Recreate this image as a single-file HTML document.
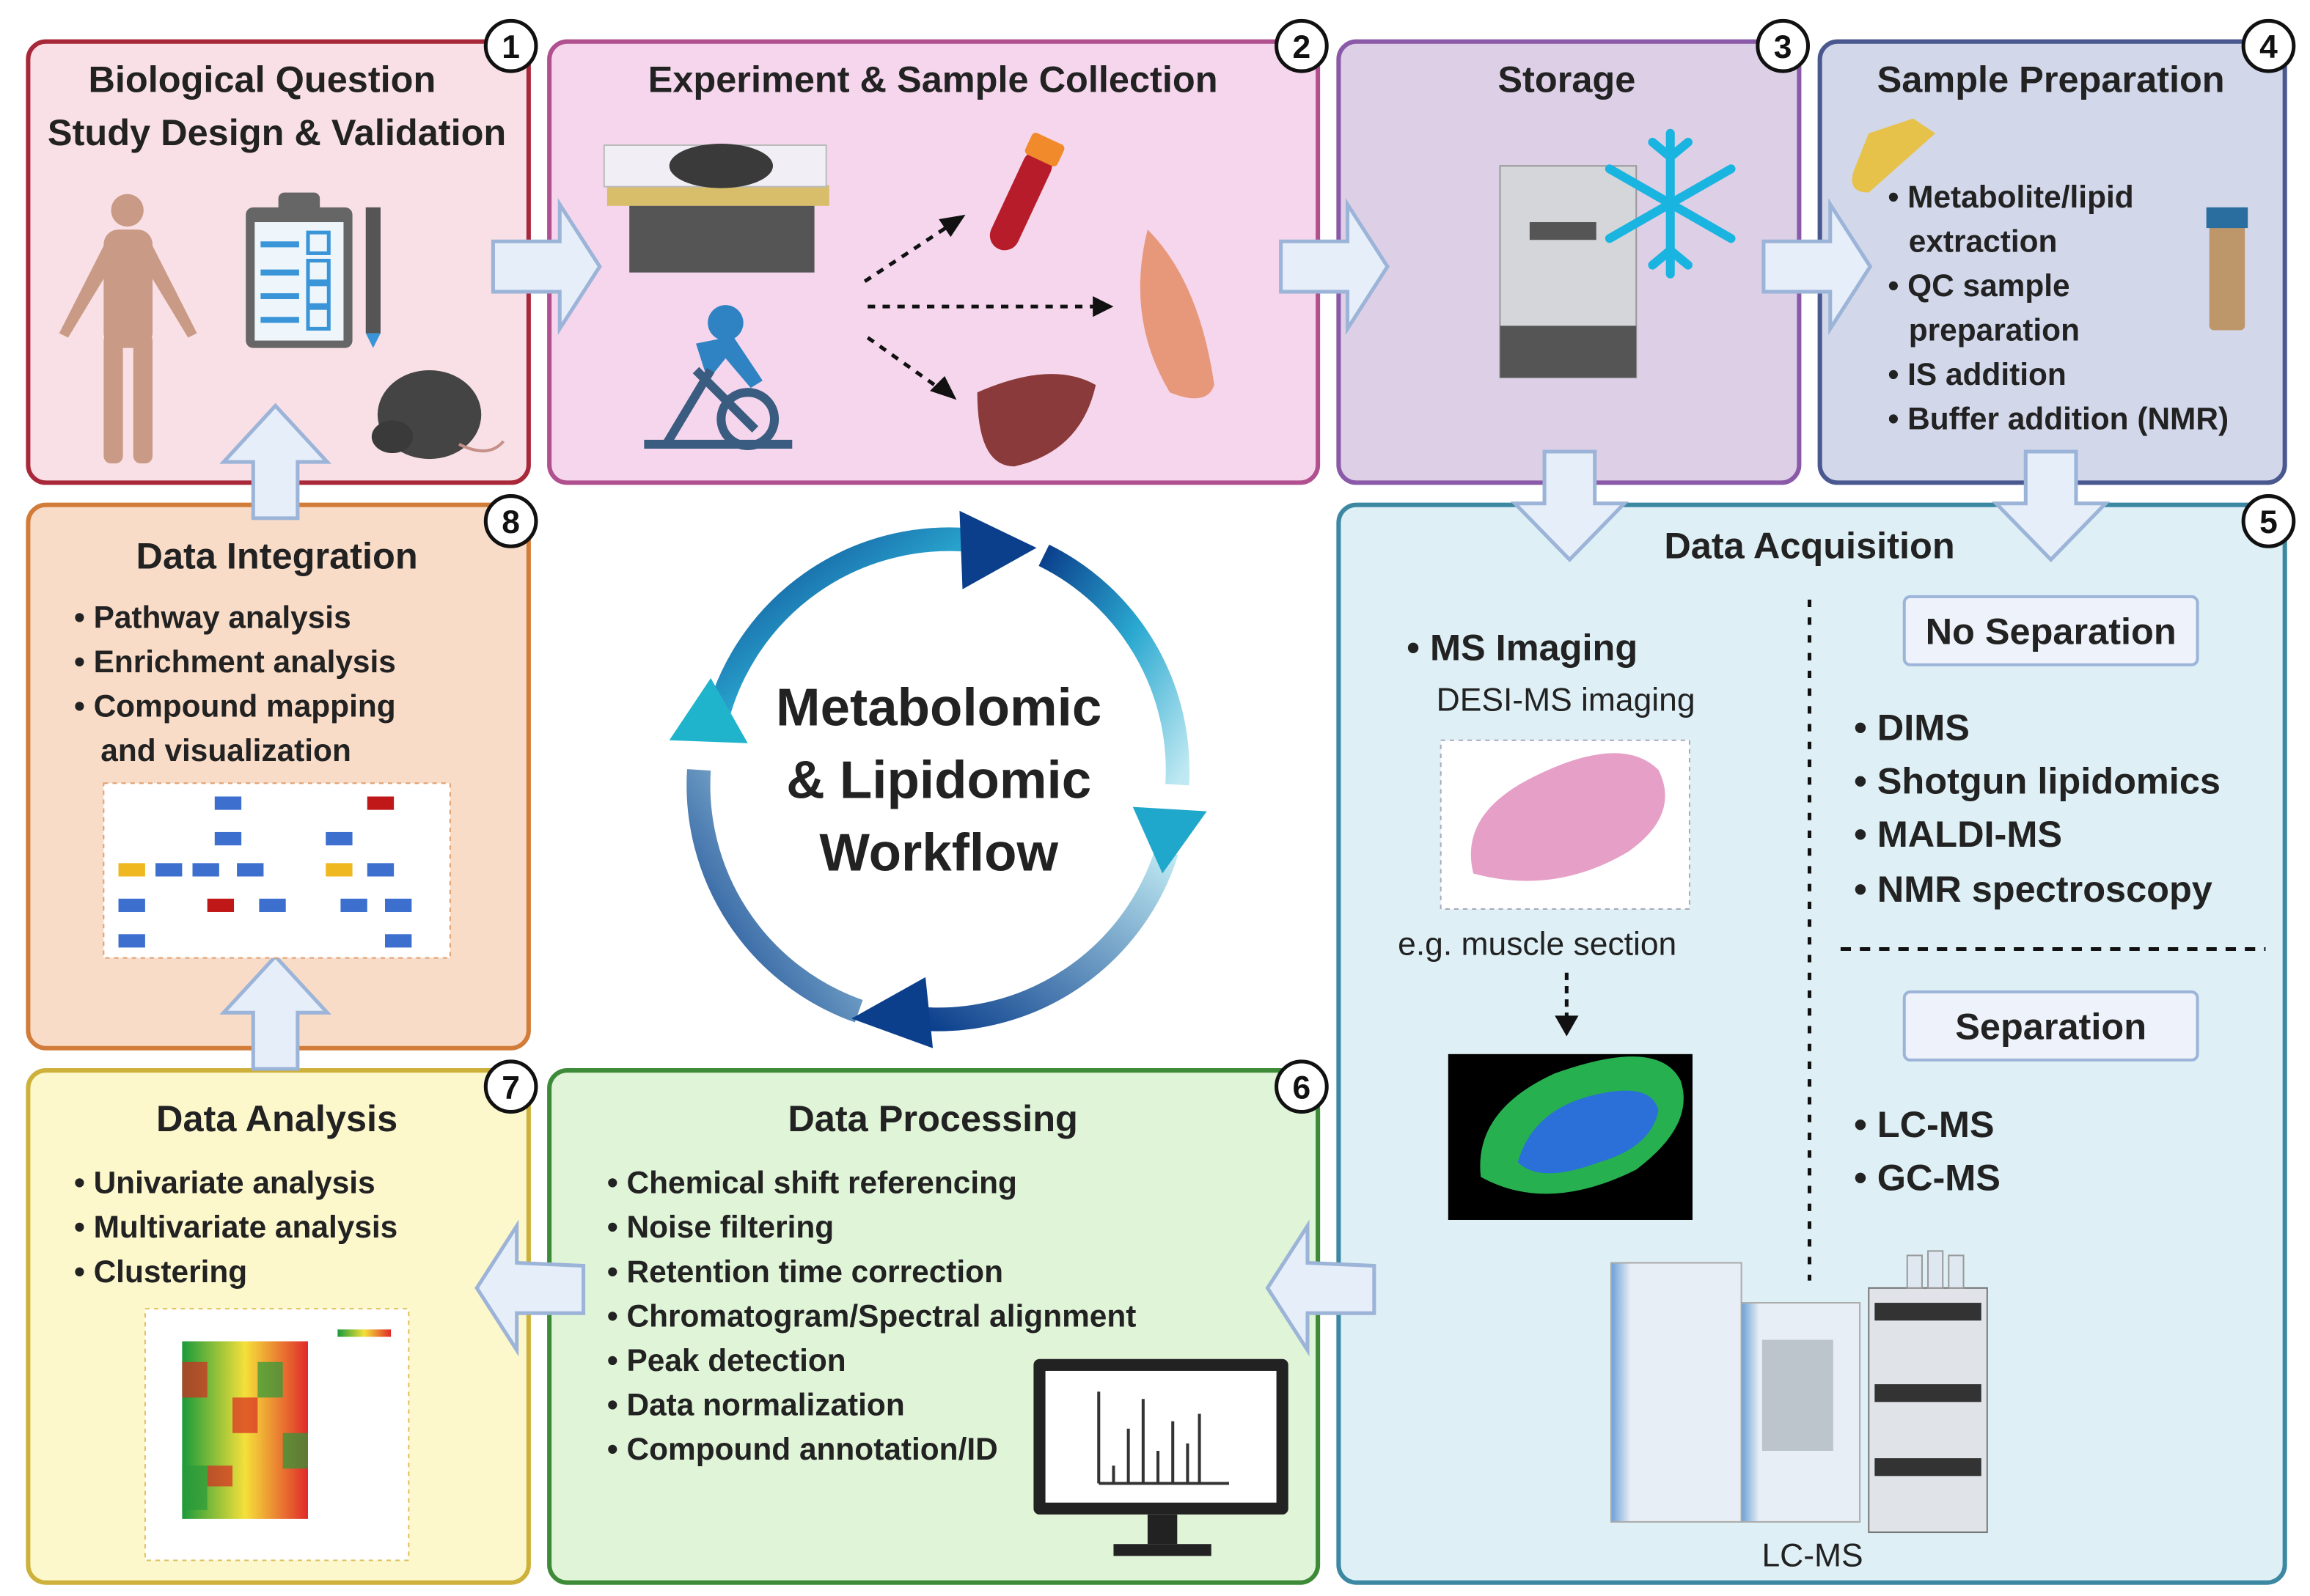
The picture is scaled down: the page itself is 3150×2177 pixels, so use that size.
<!DOCTYPE html>
<html><head><meta charset="utf-8"><style>
html,body{margin:0;padding:0;background:#fff;}
svg{display:block;}
text{font-family:"Liberation Sans",sans-serif;fill:#222;}
.t{font-weight:bold;font-size:25px;}
.b{font-weight:bold;font-size:21px;}
.n{font-weight:bold;font-size:22px;fill:#111;}
</style></head><body>
<svg width="3150" height="2177" viewBox="0 0 1560 1078" xmlns="http://www.w3.org/2000/svg">
<defs>
<linearGradient id="g1" x1="0" y1="0" x2="1" y2="1"><stop offset="0" stop-color="#0b3f8c"/><stop offset="0.5" stop-color="#2aa8d0"/><stop offset="1" stop-color="#bfe9f2"/></linearGradient>
<linearGradient id="g2" x1="1" y1="0" x2="0" y2="1"><stop offset="0" stop-color="#bfe9f2"/><stop offset="1" stop-color="#0b3f8c"/></linearGradient>
<linearGradient id="lc" x1="0" y1="0" x2="1" y2="0"><stop offset="0" stop-color="#6a9fd6"/><stop offset="0.15" stop-color="#e8eef5"/></linearGradient>
<linearGradient id="hm" x1="0" y1="0" x2="1" y2="0"><stop offset="0" stop-color="#1a9a3a"/><stop offset="0.5" stop-color="#f5e03a"/><stop offset="1" stop-color="#e02a2a"/></linearGradient>
</defs>
<rect width="1560" height="1078" fill="#fff"/>
<!-- boxes -->
<rect x="19" y="28" width="338" height="298" rx="12" fill="#f9e0e6" stroke="#a8283a" stroke-width="3"/>
<rect x="371" y="28" width="519" height="298" rx="12" fill="#f5d6ec" stroke="#b0508e" stroke-width="3"/>
<rect x="904" y="28" width="311" height="298" rx="12" fill="#ddcfe6" stroke="#8a5aa8" stroke-width="3"/>
<rect x="1229" y="28" width="314" height="298" rx="12" fill="#d2d7ea" stroke="#4a5890" stroke-width="3"/>
<rect x="904" y="341" width="639" height="728" rx="12" fill="#def0f6" stroke="#3c88a2" stroke-width="3"/>
<rect x="371" y="723" width="519" height="346" rx="12" fill="#e0f4d8" stroke="#3d8a38" stroke-width="3"/>
<rect x="19" y="723" width="338" height="346" rx="12" fill="#fcf8cc" stroke="#cdb13a" stroke-width="3"/>
<rect x="19" y="341" width="338" height="367" rx="12" fill="#f9dcc8" stroke="#d27c3a" stroke-width="3"/>
<!-- number circles -->
<g fill="#fff" stroke="#111" stroke-width="2.5">
<circle cx="345" cy="31" r="17"/><circle cx="879" cy="31" r="17"/><circle cx="1204" cy="31" r="17"/><circle cx="1532" cy="31" r="17"/>
<circle cx="1532" cy="352" r="17"/><circle cx="879" cy="734" r="17"/><circle cx="345" cy="734" r="17"/><circle cx="345" cy="352" r="17"/>
</g>
<g class="n" text-anchor="middle"><text class="n" x="345" y="39">1</text><text class="n" x="879" y="39">2</text><text class="n" x="1204" y="39">3</text><text class="n" x="1532" y="39">4</text><text class="n" x="1532" y="360">5</text><text class="n" x="879" y="742">6</text><text class="n" x="345" y="742">7</text><text class="n" x="345" y="360">8</text></g>
<!-- titles -->
<g text-anchor="middle">
<text class="t" x="177" y="62">Biological Question</text>
<text class="t" x="187" y="98">Study Design &amp; Validation</text>
<text class="t" x="630" y="62">Experiment &amp; Sample Collection</text>
<text class="t" x="1058" y="62">Storage</text>
<text class="t" x="1385" y="62">Sample Preparation</text>
<text class="t" x="1222" y="377">Data Acquisition</text>
<text class="t" x="630" y="764">Data Processing</text>
<text class="t" x="187" y="764">Data Analysis</text>
<text class="t" x="187" y="384">Data Integration</text>
</g>
<!-- hollow arrows -->
<g fill="#e6eef9" stroke="#9cb4d8" stroke-width="2.5">
<path d="M333 163 h45 v-25 l27 42 l-27 42 v-25 h-45z"/>
<path d="M865 163 h45 v-25 l27 42 l-27 42 v-25 h-45z"/>
<path d="M1191 163 h45 v-25 l27 42 l-27 42 v-25 h-45z"/>
<path d="M1043 305 v35 h-20 l37 38 l37 -38 h-20 v-35z"/>
<path d="M1368 305 v35 h-20 l37 38 l37 -38 h-20 v-35z"/>
<path d="M928 855 v32 h-45 v25 l-27 -42 l27 -42 v25z" transform="translate(0,0)"/>
<path d="M394 855 v32 h-45 v25 l-27 -42 l27 -42 v25z"/>
<path d="M171 722 v-38 h-20 l35 -38 l35 38 h-20 v38z"/>
<path d="M171 350 v-38 h-20 l35 -38 l35 38 h-20 v38z"/>
</g>
<!-- box 1 icons -->
<g fill="#c99a86"><circle cx="86" cy="142" r="11"/><rect x="70" y="155" width="33" height="80" rx="10"/><rect x="70" y="225" width="13" height="88" rx="5"/><rect x="90" y="225" width="13" height="88" rx="5"/><path d="M72 162 L40 225 L46 228 L78 175z"/><path d="M101 162 L133 225 L127 228 L95 175z"/></g>
<rect x="166" y="140" width="72" height="95" rx="5" fill="#666"/><rect x="172" y="150" width="60" height="80" fill="#eef6fc"/>
<rect x="188" y="130" width="28" height="14" rx="4" fill="#666"/>
<g stroke="#3a95d8" stroke-width="4"><line x1="176" y1="165" x2="202" y2="165"/><line x1="176" y1="184" x2="202" y2="184"/><line x1="176" y1="200" x2="202" y2="200"/><line x1="176" y1="216" x2="202" y2="216"/></g>
<g fill="none" stroke="#3a95d8" stroke-width="2.5"><rect x="208" y="157" width="14" height="14"/><rect x="208" y="176" width="14" height="14"/><rect x="208" y="192" width="14" height="14"/><rect x="208" y="208" width="14" height="14"/></g>
<rect x="247" y="140" width="10" height="85" fill="#555"/><path d="M247 225 h10 l-5 10z" fill="#3a95d8"/>
<ellipse cx="290" cy="280" rx="35" ry="30" fill="#444"/><ellipse cx="265" cy="295" rx="14" ry="11" fill="#3a3a3a"/><path d="M310 300 q20 10 30 -2" fill="none" stroke="#c49088" stroke-width="2"/>
<!-- box 2 icons -->
<rect x="410" y="125" width="150" height="14" fill="#d8bd6a"/><rect x="425" y="139" width="125" height="45" fill="#555"/><rect x="408" y="98" width="150" height="28" fill="#f1eff5" stroke="#bbb"/>
<ellipse cx="487" cy="112" rx="35" ry="15" fill="#3a3a3a"/>
<circle cx="490" cy="218" r="12" fill="#2f83c2"/><path d="M470 232 l25 -5 l20 30 l-8 5 l-17 -20 l-12 15z" fill="#2f83c2"/>
<circle cx="505" cy="283" r="18" fill="none" stroke="#3a5c80" stroke-width="6"/><path d="M435 300 h100 M450 300 l30 -50 M470 250 l40 40" stroke="#3a5c80" stroke-width="6" fill="none"/>
<g stroke="#111" stroke-width="2.5" stroke-dasharray="5 5" fill="none"><line x1="584" y1="190" x2="640" y2="153"/><line x1="586" y1="207" x2="740" y2="207"/><line x1="586" y1="228" x2="634" y2="262"/></g>
<g fill="#111"><path d="M652 145 l-18 3 l8 12z"/><path d="M752 207 l-14 -7 v14z"/><path d="M646 270 l-8 -16 l-10 10z"/></g>
<g transform="rotate(25 692 130)"><rect x="682" y="100" width="20" height="72" rx="10" fill="#b71c2a"/><rect x="680" y="90" width="24" height="16" rx="3" fill="#f08a2a"/></g>
<path d="M775 155 q-15 60 15 110 q25 10 30 -5 q-10 -70 -45 -105z" fill="#e8987a"/>
<path d="M660 265 q50 -22 80 -5 q-10 45 -55 55 q-25 0 -25 -50z" fill="#8a3a3a"/>
<!-- box 3 -->
<rect x="1013" y="112" width="92" height="143" fill="#d4d6da" stroke="#999"/><rect x="1013" y="220" width="92" height="35" fill="#555"/><rect x="1033" y="150" width="45" height="12" fill="#555"/>
<g stroke="#1ab4e0" stroke-width="6" stroke-linecap="round" fill="none"><line x1="1128" y1="90" x2="1128" y2="185"/><line x1="1087" y1="114" x2="1169" y2="161"/><line x1="1087" y1="161" x2="1169" y2="114"/><path d="M1116 96 l12 10 l12 -10 M1116 179 l12 -10 l12 10"/></g>
<!-- box 4 -->
<path d="M1262 90 l30 -10 l15 10 l-45 40 q-15 0 -10 -15z" fill="#e6c24a"/>
<rect x="1492" y="148" width="24" height="75" rx="3" fill="#b8864a" opacity="0.8"/><rect x="1490" y="140" width="28" height="14" fill="#2a6ea0"/>
<g class="b" font-size="20"><text class="b" x="1275" y="140">• Metabolite/lipid</text><text class="b" x="1289" y="170">extraction</text><text class="b" x="1275" y="200">• QC sample</text><text class="b" x="1289" y="230">preparation</text><text class="b" x="1275" y="260">• IS addition</text><text class="b" x="1275" y="290">• Buffer addition (NMR)</text></g>
<!-- box 8 -->
<text class="b" x="50" y="424">• Pathway analysis</text><text class="b" x="50" y="454">• Enrichment analysis</text><text class="b" x="50" y="484">• Compound mapping</text><text class="b" x="68" y="514">and visualization</text>
<rect x="70" y="529" width="234" height="118" fill="#fff" stroke="#e0a070" stroke-dasharray="3 3"/>
<g fill="#3d6fcf"><rect x="145" y="538" width="18" height="9"/><rect x="145" y="562" width="18" height="9"/><rect x="105" y="583" width="18" height="9"/><rect x="130" y="583" width="18" height="9"/><rect x="160" y="583" width="18" height="9"/><rect x="80" y="607" width="18" height="9"/><rect x="175" y="607" width="18" height="9"/><rect x="80" y="631" width="18" height="9"/><rect x="220" y="562" width="18" height="9"/><rect x="248" y="583" width="18" height="9"/><rect x="230" y="607" width="18" height="9"/><rect x="260" y="607" width="18" height="9"/><rect x="260" y="631" width="18" height="9"/></g>
<g fill="#f0b820"><rect x="80" y="583" width="18" height="9"/><rect x="220" y="583" width="18" height="9"/></g>
<g fill="#c01818"><rect x="140" y="607" width="18" height="9"/><rect x="248" y="538" width="18" height="9"/></g>
<!-- box 7 -->
<text class="b" x="50" y="806">• Univariate analysis</text><text class="b" x="50" y="836">• Multivariate analysis</text><text class="b" x="50" y="866">• Clustering</text>
<rect x="98" y="884" width="178" height="170" fill="#fff" stroke="#e0c060" stroke-dasharray="3 3"/>
<rect x="123" y="906" width="85" height="120" fill="url(#hm)"/>
<g fill="#d82a22" opacity="0.7"><rect x="123" y="920" width="17" height="24"/><rect x="157" y="944" width="17" height="24"/><rect x="140" y="990" width="17" height="14"/></g>
<g fill="#2a9a3a" opacity="0.7"><rect x="174" y="920" width="17" height="24"/><rect x="123" y="990" width="17" height="30"/><rect x="191" y="968" width="17" height="24"/></g>
<rect x="228" y="898" width="36" height="5" fill="url(#hm)"/>
<!-- box 6 -->
<g class="b"><text class="b" x="410" y="806">• Chemical shift referencing</text><text class="b" x="410" y="836">• Noise filtering</text><text class="b" x="410" y="866">• Retention time correction</text><text class="b" x="410" y="896">• Chromatogram/Spectral alignment</text><text class="b" x="410" y="926">• Peak detection</text><text class="b" x="410" y="956">• Data normalization</text><text class="b" x="410" y="986">• Compound annotation/ID</text></g>
<rect x="698" y="918" width="172" height="105" rx="4" fill="#222"/><rect x="706" y="926" width="156" height="89" fill="#fff"/><rect x="775" y="1023" width="20" height="20" fill="#222"/><rect x="752" y="1043" width="66" height="8" fill="#222"/>
<g stroke="#333" stroke-width="2"><line x1="742" y1="1002" x2="830" y2="1002"/><line x1="742" y1="940" x2="742" y2="1002"/><line x1="752" y1="990" x2="752" y2="1002"/><line x1="762" y1="965" x2="762" y2="1002"/><line x1="772" y1="945" x2="772" y2="1002"/><line x1="782" y1="980" x2="782" y2="1002"/><line x1="792" y1="960" x2="792" y2="1002"/><line x1="802" y1="975" x2="802" y2="1002"/><line x1="810" y1="955" x2="810" y2="1002"/></g>
<!-- box 5 -->
<line x1="1222" y1="405" x2="1222" y2="865" stroke="#111" stroke-width="2.5" stroke-dasharray="5 7"/>
<line x1="1243" y1="641" x2="1530" y2="641" stroke="#111" stroke-width="2.5" stroke-dasharray="7 6"/>
<text class="b" font-size="25" style="font-size:25px" x="950" y="446">• MS Imaging</text>
<text x="970" y="480" font-size="22">DESI-MS imaging</text>
<rect x="973" y="500" width="168" height="114" fill="#fff" stroke="#aab" stroke-dasharray="3 3"/>
<path d="M995 590 q-10 -40 40 -65 q60 -30 85 -5 q15 30 -20 55 q-50 30 -105 15z" fill="#e6a0c8"/>
<text x="944" y="645" font-size="22">e.g. muscle section</text>
<line x1="1058" y1="657" x2="1058" y2="687" stroke="#111" stroke-width="2.5" stroke-dasharray="5 4"/><path d="M1050 686 h16 l-8 14z" fill="#111"/>
<rect x="978" y="712" width="165" height="112" fill="#000"/>
<path d="M1000 795 q-5 -45 50 -70 q70 -25 85 5 q10 30 -30 60 q-60 30 -105 5z" fill="#27b050"/>
<path d="M1025 785 q10 -35 50 -45 q40 -10 45 10 q-5 25 -40 35 q-40 15 -55 0z" fill="#2a70d8"/>
<rect x="1286" y="403" width="198" height="46" rx="4" fill="#eef3fb" stroke="#9cb4d8" stroke-width="2"/>
<text class="t" x="1385" y="435" text-anchor="middle">No Separation</text>
<rect x="1286" y="670" width="198" height="46" rx="4" fill="#eef3fb" stroke="#9cb4d8" stroke-width="2"/>
<text class="t" x="1385" y="702" text-anchor="middle">Separation</text>
<g class="t"><text class="t" x="1252" y="500">• DIMS</text><text class="t" x="1252" y="536">• Shotgun lipidomics</text><text class="t" x="1252" y="572">• MALDI-MS</text><text class="t" x="1252" y="609">• NMR spectroscopy</text><text class="t" x="1252" y="768">• LC-MS</text><text class="t" x="1252" y="804">• GC-MS</text></g>
<rect x="1088" y="853" width="88" height="175" fill="url(#lc)" stroke="#aaa"/>
<rect x="1176" y="880" width="80" height="148" fill="url(#lc)" stroke="#aaa"/><rect x="1190" y="905" width="48" height="75" fill="#bcc4cc"/>
<rect x="1262" y="870" width="80" height="165" fill="#e0e4e8" stroke="#777"/>
<g fill="#333"><rect x="1266" y="880" width="72" height="12"/><rect x="1266" y="935" width="72" height="12"/><rect x="1266" y="985" width="72" height="12"/></g>
<g fill="#dfe8f0" stroke="#999"><rect x="1288" y="848" width="10" height="22"/><rect x="1302" y="845" width="10" height="25"/><rect x="1316" y="848" width="10" height="22"/></g>
<text x="1224" y="1058" font-size="22" text-anchor="middle">LC-MS</text>
<!-- cycle -->
<g fill="none" stroke-width="16">
<path d="M482 495 A162 162 0 0 1 665 366" stroke="url(#g1)"/>
<path d="M705 375 A162 162 0 0 1 795 530" stroke="url(#g1)"/>
<path d="M788 575 A162 162 0 0 1 620 688" stroke="url(#g2)"/>
<path d="M580 683 A162 162 0 0 1 472 520" stroke="url(#g2)"/>
</g>
<path d="M648 345 L700 370 L650 398z" fill="#0b3f8c"/>
<path d="M765 545 L815 548 L785 590z" fill="#20a8cc"/>
<path d="M625 660 L575 688 L630 708z" fill="#0b3f8c"/>
<path d="M452 500 L480 458 L505 502z" fill="#20b4cc"/>
<g text-anchor="middle" font-weight="bold" font-size="36"><text x="634" y="490" font-weight="bold" font-size="36">Metabolomic</text><text x="634" y="539" font-weight="bold" font-size="36">&amp; Lipidomic</text><text x="634" y="588" font-weight="bold" font-size="36">Workflow</text></g>
</svg>
</body></html>
